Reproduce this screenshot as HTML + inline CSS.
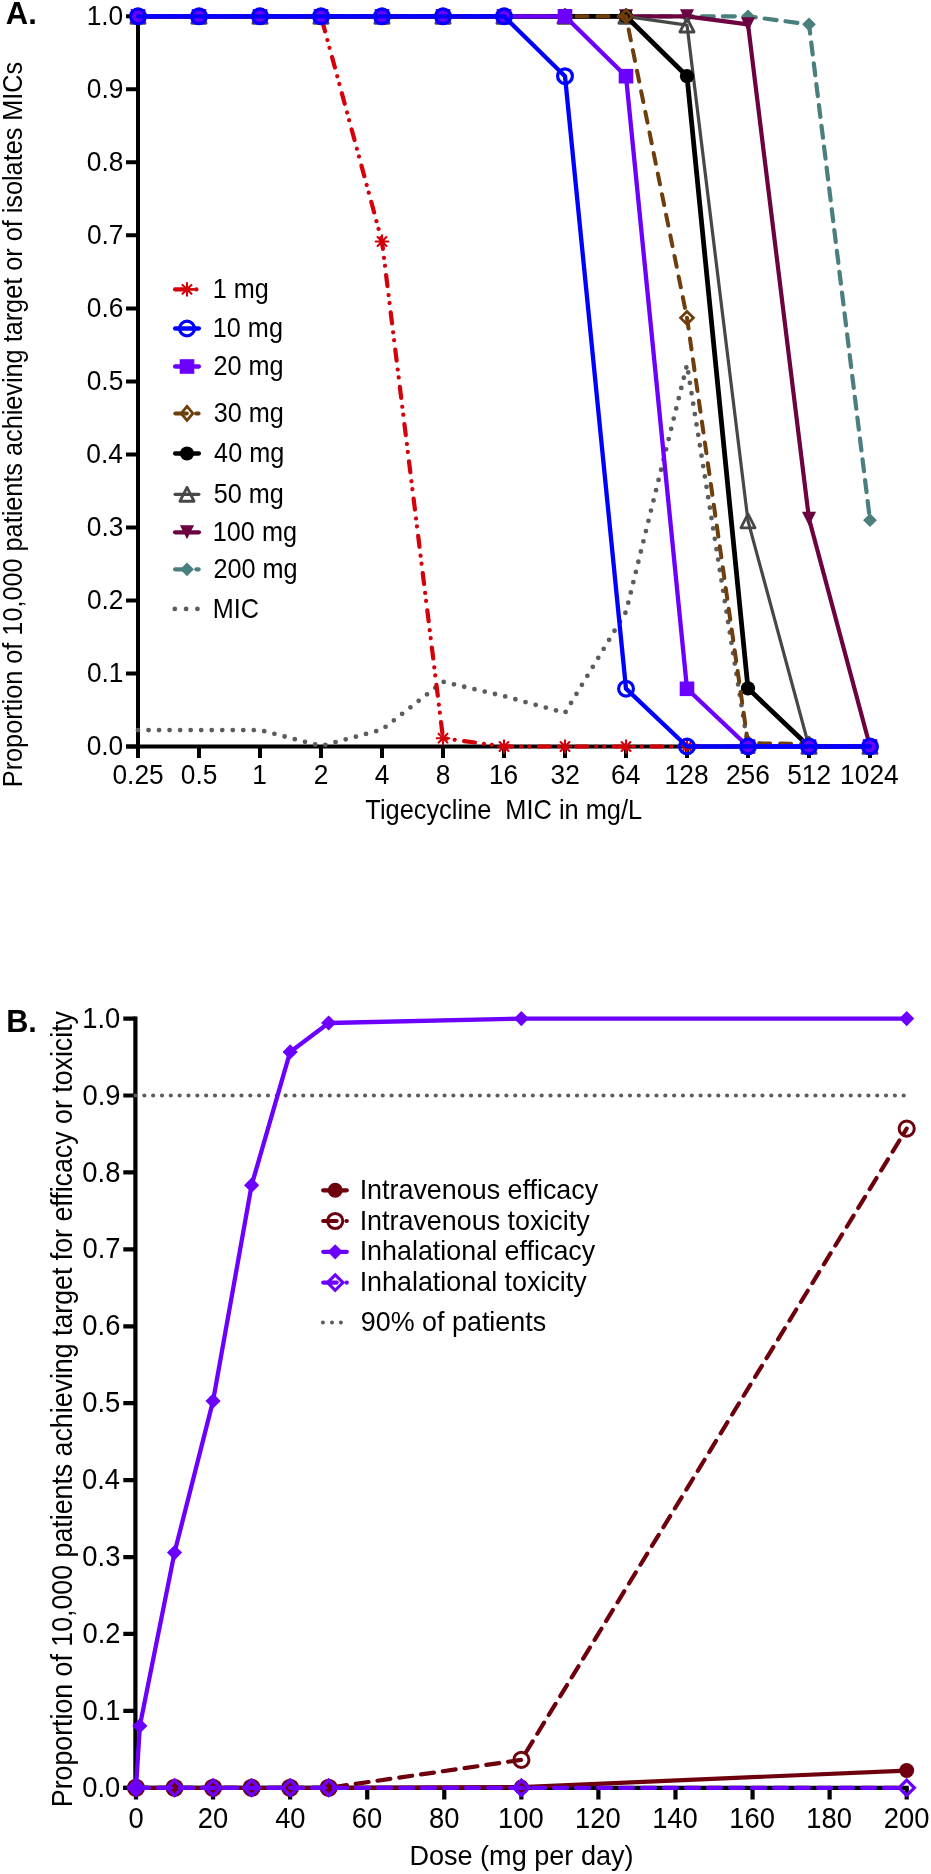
<!DOCTYPE html><html><head><meta charset="utf-8"><style>html,body{margin:0;padding:0;background:#fff;overflow:hidden}svg{display:block;will-change:transform}text{font-family:"Liberation Sans",sans-serif}</style></head><body>
<svg width="931" height="1874" viewBox="0 0 931 1874">
<rect width="931" height="1874" fill="#fff"/>
<text transform="translate(5.82,23.60) scale(1.0000,1)" font-size="31.0" font-weight="bold" fill="#000">A.</text>
<path d="M138,14.40V748.50M126,746.50H872.00" stroke="#000" stroke-width="4" fill="none"/>
<path d="M126,746.50H138M126,673.48H138M126,600.46H138M126,527.44H138M126,454.42H138M126,381.40H138M126,308.38H138M126,235.36H138M126,162.34H138M126,89.32H138M126,16.30H138M138,746.50V758M199,746.50V758M260,746.50V758M321,746.50V758M382,746.50V758M443,746.50V758M504,746.50V758M565,746.50V758M626,746.50V758M687,746.50V758M748,746.50V758M809,746.50V758M870,746.50V758" stroke="#000" stroke-width="4" fill="none"/>
<text transform="translate(86.63,755.30) scale(0.9750,1)" font-size="27" font-weight="normal" fill="#000">0.0</text>
<text transform="translate(86.90,682.28) scale(0.9750,1)" font-size="27" font-weight="normal" fill="#000">0.1</text>
<text transform="translate(86.92,609.26) scale(0.9750,1)" font-size="27" font-weight="normal" fill="#000">0.2</text>
<text transform="translate(86.77,536.24) scale(0.9750,1)" font-size="27" font-weight="normal" fill="#000">0.3</text>
<text transform="translate(86.37,463.22) scale(0.9750,1)" font-size="27" font-weight="normal" fill="#000">0.4</text>
<text transform="translate(86.71,390.20) scale(0.9750,1)" font-size="27" font-weight="normal" fill="#000">0.5</text>
<text transform="translate(86.77,317.18) scale(0.9750,1)" font-size="27" font-weight="normal" fill="#000">0.6</text>
<text transform="translate(86.92,244.16) scale(0.9750,1)" font-size="27" font-weight="normal" fill="#000">0.7</text>
<text transform="translate(86.74,171.14) scale(0.9750,1)" font-size="27" font-weight="normal" fill="#000">0.8</text>
<text transform="translate(86.85,98.12) scale(0.9750,1)" font-size="27" font-weight="normal" fill="#000">0.9</text>
<text transform="translate(86.63,25.10) scale(0.9750,1)" font-size="27" font-weight="normal" fill="#000">1.0</text>
<text transform="translate(112.43,784.00) scale(0.9750,1)" font-size="27" font-weight="normal" fill="#000">0.25</text>
<text transform="translate(180.74,784.00) scale(0.9750,1)" font-size="27" font-weight="normal" fill="#000">0.5</text>
<text transform="translate(252.33,784.00) scale(0.9750,1)" font-size="27" font-weight="normal" fill="#000">1</text>
<text transform="translate(313.68,784.00) scale(0.9750,1)" font-size="27" font-weight="normal" fill="#000">2</text>
<text transform="translate(374.76,784.00) scale(0.9750,1)" font-size="27" font-weight="normal" fill="#000">4</text>
<text transform="translate(435.68,784.00) scale(0.9750,1)" font-size="27" font-weight="normal" fill="#000">8</text>
<text transform="translate(488.94,784.00) scale(0.9750,1)" font-size="27" font-weight="normal" fill="#000">16</text>
<text transform="translate(550.52,784.00) scale(0.9750,1)" font-size="27" font-weight="normal" fill="#000">32</text>
<text transform="translate(611.07,784.00) scale(0.9750,1)" font-size="27" font-weight="normal" fill="#000">64</text>
<text transform="translate(664.61,784.00) scale(0.9750,1)" font-size="27" font-weight="normal" fill="#000">128</text>
<text transform="translate(725.97,784.00) scale(0.9750,1)" font-size="27" font-weight="normal" fill="#000">256</text>
<text transform="translate(787.18,784.00) scale(0.9750,1)" font-size="27" font-weight="normal" fill="#000">512</text>
<text transform="translate(840.11,784.00) scale(0.9750,1)" font-size="27" font-weight="normal" fill="#000">1024</text>
<text transform="translate(365.34,818.80) scale(0.9399,1)" font-size="27" font-weight="normal" fill="#000" style="white-space:pre">Tigecycline  MIC in mg/L</text>
<text transform="translate(22.00,787.17) rotate(-90) scale(0.9355,1)" font-size="27" font-weight="normal" fill="#000">Proportion of 10,000 patients achieving target or of isolates MICs</text>
<polyline points="138.00,730.10 199.00,730.10 260.00,730.10 321.00,746.00 382.00,729.60 443.00,681.80 504.00,696.10 565.00,712.90 626.00,611.80 687.00,364.80 748.00,746.30 809.00,746.30 870.00,746.30" fill="none" stroke="#5c5c5c" stroke-width="4.8" stroke-linecap="round" stroke-linejoin="round" stroke-dasharray="0 10.53"/>
<polyline points="138.00,16.30 199.00,16.30 260.00,16.30 321.00,16.30 382.00,16.30 443.00,16.30 504.00,16.30 565.00,16.30 626.00,16.30 687.00,16.30 748.00,16.30 809.00,24.33 870.00,520.14" fill="none" stroke="#4a7f7e" stroke-width="4.2" stroke-linecap="round" stroke-linejoin="round" stroke-dasharray="12 9" stroke-dashoffset="3.2"/>
<polygon points="138.00,9.40 144.90,16.30 138.00,23.20 131.10,16.30" fill="#4a7f7e"/>
<polygon points="199.00,9.40 205.90,16.30 199.00,23.20 192.10,16.30" fill="#4a7f7e"/>
<polygon points="260.00,9.40 266.90,16.30 260.00,23.20 253.10,16.30" fill="#4a7f7e"/>
<polygon points="321.00,9.40 327.90,16.30 321.00,23.20 314.10,16.30" fill="#4a7f7e"/>
<polygon points="382.00,9.40 388.90,16.30 382.00,23.20 375.10,16.30" fill="#4a7f7e"/>
<polygon points="443.00,9.40 449.90,16.30 443.00,23.20 436.10,16.30" fill="#4a7f7e"/>
<polygon points="504.00,9.40 510.90,16.30 504.00,23.20 497.10,16.30" fill="#4a7f7e"/>
<polygon points="565.00,9.40 571.90,16.30 565.00,23.20 558.10,16.30" fill="#4a7f7e"/>
<polygon points="626.00,9.40 632.90,16.30 626.00,23.20 619.10,16.30" fill="#4a7f7e"/>
<polygon points="687.00,9.40 693.90,16.30 687.00,23.20 680.10,16.30" fill="#4a7f7e"/>
<polygon points="748.00,9.40 754.90,16.30 748.00,23.20 741.10,16.30" fill="#4a7f7e"/>
<polygon points="809.00,17.43 815.90,24.33 809.00,31.23 802.10,24.33" fill="#4a7f7e"/>
<polygon points="870.00,513.24 876.90,520.14 870.00,527.04 863.10,520.14" fill="#4a7f7e"/>
<polyline points="138.00,16.30 199.00,16.30 260.00,16.30 321.00,16.30 382.00,16.30 443.00,16.30 504.00,16.30 565.00,16.30 626.00,16.30 687.00,16.30 748.00,24.33 809.00,518.68 870.00,746.50" fill="none" stroke="#6c0240" stroke-width="4.2" stroke-linecap="round" stroke-linejoin="round"/>
<polygon points="138.00,23.35 145.05,9.25 130.95,9.25" fill="#6c0240"/>
<polygon points="199.00,23.35 206.05,9.25 191.95,9.25" fill="#6c0240"/>
<polygon points="260.00,23.35 267.05,9.25 252.95,9.25" fill="#6c0240"/>
<polygon points="321.00,23.35 328.05,9.25 313.95,9.25" fill="#6c0240"/>
<polygon points="382.00,23.35 389.05,9.25 374.95,9.25" fill="#6c0240"/>
<polygon points="443.00,23.35 450.05,9.25 435.95,9.25" fill="#6c0240"/>
<polygon points="504.00,23.35 511.05,9.25 496.95,9.25" fill="#6c0240"/>
<polygon points="565.00,23.35 572.05,9.25 557.95,9.25" fill="#6c0240"/>
<polygon points="626.00,23.35 633.05,9.25 618.95,9.25" fill="#6c0240"/>
<polygon points="687.00,23.35 694.05,9.25 679.95,9.25" fill="#6c0240"/>
<polygon points="748.00,31.38 755.05,17.28 740.95,17.28" fill="#6c0240"/>
<polygon points="809.00,525.73 816.05,511.63 801.95,511.63" fill="#6c0240"/>
<polygon points="870.00,753.55 877.05,739.45 862.95,739.45" fill="#6c0240"/>
<polyline points="138.00,16.30 199.00,16.30 260.00,16.30 321.00,16.30 382.00,16.30 443.00,16.30 504.00,16.30 565.00,16.30 626.00,16.30 687.00,25.06 748.00,520.87 809.00,746.50 870.00,746.50" fill="none" stroke="#474747" stroke-width="3.2" stroke-linecap="round" stroke-linejoin="round"/>
<polygon points="138.00,9.35 145.10,23.25 130.90,23.25" fill="none" stroke="#474747" stroke-width="2.8" stroke-linejoin="round"/>
<polygon points="199.00,9.35 206.10,23.25 191.90,23.25" fill="none" stroke="#474747" stroke-width="2.8" stroke-linejoin="round"/>
<polygon points="260.00,9.35 267.10,23.25 252.90,23.25" fill="none" stroke="#474747" stroke-width="2.8" stroke-linejoin="round"/>
<polygon points="321.00,9.35 328.10,23.25 313.90,23.25" fill="none" stroke="#474747" stroke-width="2.8" stroke-linejoin="round"/>
<polygon points="382.00,9.35 389.10,23.25 374.90,23.25" fill="none" stroke="#474747" stroke-width="2.8" stroke-linejoin="round"/>
<polygon points="443.00,9.35 450.10,23.25 435.90,23.25" fill="none" stroke="#474747" stroke-width="2.8" stroke-linejoin="round"/>
<polygon points="504.00,9.35 511.10,23.25 496.90,23.25" fill="none" stroke="#474747" stroke-width="2.8" stroke-linejoin="round"/>
<polygon points="565.00,9.35 572.10,23.25 557.90,23.25" fill="none" stroke="#474747" stroke-width="2.8" stroke-linejoin="round"/>
<polygon points="626.00,9.35 633.10,23.25 618.90,23.25" fill="none" stroke="#474747" stroke-width="2.8" stroke-linejoin="round"/>
<polygon points="687.00,18.11 694.10,32.01 679.90,32.01" fill="none" stroke="#474747" stroke-width="2.8" stroke-linejoin="round"/>
<polygon points="748.00,513.92 755.10,527.82 740.90,527.82" fill="none" stroke="#474747" stroke-width="2.8" stroke-linejoin="round"/>
<polygon points="809.00,739.55 816.10,753.45 801.90,753.45" fill="none" stroke="#474747" stroke-width="2.8" stroke-linejoin="round"/>
<polygon points="870.00,739.55 877.10,753.45 862.90,753.45" fill="none" stroke="#474747" stroke-width="2.8" stroke-linejoin="round"/>
<polyline points="138.00,16.30 199.00,16.30 260.00,16.30 321.00,16.30 382.00,16.30 443.00,16.30 504.00,16.30 565.00,16.30 626.00,16.30 687.00,76.18 748.00,688.38 809.00,746.50 870.00,746.50" fill="none" stroke="#000000" stroke-width="4.8" stroke-linecap="round" stroke-linejoin="round"/>
<circle cx="138.00" cy="16.30" r="7.1" fill="#000000"/>
<circle cx="199.00" cy="16.30" r="7.1" fill="#000000"/>
<circle cx="260.00" cy="16.30" r="7.1" fill="#000000"/>
<circle cx="321.00" cy="16.30" r="7.1" fill="#000000"/>
<circle cx="382.00" cy="16.30" r="7.1" fill="#000000"/>
<circle cx="443.00" cy="16.30" r="7.1" fill="#000000"/>
<circle cx="504.00" cy="16.30" r="7.1" fill="#000000"/>
<circle cx="565.00" cy="16.30" r="7.1" fill="#000000"/>
<circle cx="626.00" cy="16.30" r="7.1" fill="#000000"/>
<circle cx="687.00" cy="76.18" r="7.1" fill="#000000"/>
<circle cx="748.00" cy="688.38" r="7.1" fill="#000000"/>
<circle cx="809.00" cy="746.50" r="7.1" fill="#000000"/>
<circle cx="870.00" cy="746.50" r="7.1" fill="#000000"/>
<polyline points="138.00,16.30 199.00,16.30 260.00,16.30 321.00,16.30 382.00,16.30 443.00,16.30 504.00,16.30 565.00,16.30 626.00,16.30 687.00,317.87 748.00,743.21 809.00,743.94" fill="none" stroke="#6e3e0c" stroke-width="4.0" stroke-linecap="round" stroke-linejoin="round" stroke-dasharray="11 10" stroke-dashoffset="2.5"/>
<polygon points="138.00,9.90 144.40,16.30 138.00,22.70 131.60,16.30" fill="none" stroke="#6e3e0c" stroke-width="2.8" stroke-linejoin="miter"/>
<polygon points="199.00,9.90 205.40,16.30 199.00,22.70 192.60,16.30" fill="none" stroke="#6e3e0c" stroke-width="2.8" stroke-linejoin="miter"/>
<polygon points="260.00,9.90 266.40,16.30 260.00,22.70 253.60,16.30" fill="none" stroke="#6e3e0c" stroke-width="2.8" stroke-linejoin="miter"/>
<polygon points="321.00,9.90 327.40,16.30 321.00,22.70 314.60,16.30" fill="none" stroke="#6e3e0c" stroke-width="2.8" stroke-linejoin="miter"/>
<polygon points="382.00,9.90 388.40,16.30 382.00,22.70 375.60,16.30" fill="none" stroke="#6e3e0c" stroke-width="2.8" stroke-linejoin="miter"/>
<polygon points="443.00,9.90 449.40,16.30 443.00,22.70 436.60,16.30" fill="none" stroke="#6e3e0c" stroke-width="2.8" stroke-linejoin="miter"/>
<polygon points="504.00,9.90 510.40,16.30 504.00,22.70 497.60,16.30" fill="none" stroke="#6e3e0c" stroke-width="2.8" stroke-linejoin="miter"/>
<polygon points="565.00,9.90 571.40,16.30 565.00,22.70 558.60,16.30" fill="none" stroke="#6e3e0c" stroke-width="2.8" stroke-linejoin="miter"/>
<polygon points="626.00,9.90 632.40,16.30 626.00,22.70 619.60,16.30" fill="none" stroke="#6e3e0c" stroke-width="2.8" stroke-linejoin="miter"/>
<polygon points="687.00,311.47 693.40,317.87 687.00,324.27 680.60,317.87" fill="none" stroke="#6e3e0c" stroke-width="2.8" stroke-linejoin="miter"/>
<polygon points="748.00,736.81 754.40,743.21 748.00,749.61 741.60,743.21" fill="none" stroke="#6e3e0c" stroke-width="2.8" stroke-linejoin="miter"/>
<polygon points="809.00,737.54 815.40,743.94 809.00,750.34 802.60,743.94" fill="none" stroke="#6e3e0c" stroke-width="2.8" stroke-linejoin="miter"/>
<polyline points="138.00,16.30 199.00,16.30 260.00,16.30 321.00,16.30 382.00,241.49 443.00,738.18 504.00,746.50 565.00,746.50 626.00,746.50 687.00,746.50 748.00,746.50 809.00,746.50 870.00,746.50" fill="none" stroke="#d4000a" stroke-width="4.2" stroke-linecap="round" stroke-linejoin="round" stroke-dasharray="11 9 0.01 8 0.01 9.5"/>
<path d="M131.70,16.30L144.30,16.30M133.55,11.85L142.45,20.75M138.00,10.00L138.00,22.60M142.45,11.85L133.55,20.75" stroke="#d4000a" stroke-width="2.1" fill="none" stroke-linecap="round"/>
<path d="M192.70,16.30L205.30,16.30M194.55,11.85L203.45,20.75M199.00,10.00L199.00,22.60M203.45,11.85L194.55,20.75" stroke="#d4000a" stroke-width="2.1" fill="none" stroke-linecap="round"/>
<path d="M253.70,16.30L266.30,16.30M255.55,11.85L264.45,20.75M260.00,10.00L260.00,22.60M264.45,11.85L255.55,20.75" stroke="#d4000a" stroke-width="2.1" fill="none" stroke-linecap="round"/>
<path d="M314.70,16.30L327.30,16.30M316.55,11.85L325.45,20.75M321.00,10.00L321.00,22.60M325.45,11.85L316.55,20.75" stroke="#d4000a" stroke-width="2.1" fill="none" stroke-linecap="round"/>
<path d="M375.70,241.49L388.30,241.49M377.55,237.04L386.45,245.95M382.00,235.19L382.00,247.79M386.45,237.04L377.55,245.95" stroke="#d4000a" stroke-width="2.1" fill="none" stroke-linecap="round"/>
<path d="M436.70,738.18L449.30,738.18M438.55,733.72L447.45,742.63M443.00,731.88L443.00,744.48M447.45,733.72L438.55,742.63" stroke="#d4000a" stroke-width="2.1" fill="none" stroke-linecap="round"/>
<path d="M497.70,746.50L510.30,746.50M499.55,742.05L508.45,750.95M504.00,740.20L504.00,752.80M508.45,742.05L499.55,750.95" stroke="#d4000a" stroke-width="2.1" fill="none" stroke-linecap="round"/>
<path d="M558.70,746.50L571.30,746.50M560.55,742.05L569.45,750.95M565.00,740.20L565.00,752.80M569.45,742.05L560.55,750.95" stroke="#d4000a" stroke-width="2.1" fill="none" stroke-linecap="round"/>
<path d="M619.70,746.50L632.30,746.50M621.55,742.05L630.45,750.95M626.00,740.20L626.00,752.80M630.45,742.05L621.55,750.95" stroke="#d4000a" stroke-width="2.1" fill="none" stroke-linecap="round"/>
<path d="M680.70,746.50L693.30,746.50M682.55,742.05L691.45,750.95M687.00,740.20L687.00,752.80M691.45,742.05L682.55,750.95" stroke="#d4000a" stroke-width="2.1" fill="none" stroke-linecap="round"/>
<path d="M741.70,746.50L754.30,746.50M743.55,742.05L752.45,750.95M748.00,740.20L748.00,752.80M752.45,742.05L743.55,750.95" stroke="#d4000a" stroke-width="2.1" fill="none" stroke-linecap="round"/>
<path d="M802.70,746.50L815.30,746.50M804.55,742.05L813.45,750.95M809.00,740.20L809.00,752.80M813.45,742.05L804.55,750.95" stroke="#d4000a" stroke-width="2.1" fill="none" stroke-linecap="round"/>
<path d="M863.70,746.50L876.30,746.50M865.55,742.05L874.45,750.95M870.00,740.20L870.00,752.80M874.45,742.05L865.55,750.95" stroke="#d4000a" stroke-width="2.1" fill="none" stroke-linecap="round"/>
<polyline points="138.00,16.30 199.00,16.30 260.00,16.30 321.00,16.30 382.00,16.30 443.00,16.30 504.00,16.30 565.00,16.30 626.00,76.18 687.00,688.81 748.00,746.50 809.00,746.50 870.00,746.50" fill="none" stroke="#6b00fe" stroke-width="4.3" stroke-linecap="round" stroke-linejoin="round"/>
<rect x="130.70" y="9.00" width="14.6" height="14.6" fill="#6b00fe"/>
<rect x="191.70" y="9.00" width="14.6" height="14.6" fill="#6b00fe"/>
<rect x="252.70" y="9.00" width="14.6" height="14.6" fill="#6b00fe"/>
<rect x="313.70" y="9.00" width="14.6" height="14.6" fill="#6b00fe"/>
<rect x="374.70" y="9.00" width="14.6" height="14.6" fill="#6b00fe"/>
<rect x="435.70" y="9.00" width="14.6" height="14.6" fill="#6b00fe"/>
<rect x="496.70" y="9.00" width="14.6" height="14.6" fill="#6b00fe"/>
<rect x="557.70" y="9.00" width="14.6" height="14.6" fill="#6b00fe"/>
<rect x="618.70" y="68.88" width="14.6" height="14.6" fill="#6b00fe"/>
<rect x="679.70" y="681.51" width="14.6" height="14.6" fill="#6b00fe"/>
<rect x="740.70" y="739.20" width="14.6" height="14.6" fill="#6b00fe"/>
<rect x="801.70" y="739.20" width="14.6" height="14.6" fill="#6b00fe"/>
<rect x="862.70" y="739.20" width="14.6" height="14.6" fill="#6b00fe"/>
<polyline points="138.00,16.30 199.00,16.30 260.00,16.30 321.00,16.30 382.00,16.30 443.00,16.30 504.00,16.30 565.00,76.18 626.00,688.67 687.00,746.50 748.00,746.50 809.00,746.50 870.00,746.50" fill="none" stroke="#0000ff" stroke-width="4.3" stroke-linecap="round" stroke-linejoin="round"/>
<circle cx="138.00" cy="16.30" r="7.4" fill="none" stroke="#0000ff" stroke-width="3.2"/>
<circle cx="199.00" cy="16.30" r="7.4" fill="none" stroke="#0000ff" stroke-width="3.2"/>
<circle cx="260.00" cy="16.30" r="7.4" fill="none" stroke="#0000ff" stroke-width="3.2"/>
<circle cx="321.00" cy="16.30" r="7.4" fill="none" stroke="#0000ff" stroke-width="3.2"/>
<circle cx="382.00" cy="16.30" r="7.4" fill="none" stroke="#0000ff" stroke-width="3.2"/>
<circle cx="443.00" cy="16.30" r="7.4" fill="none" stroke="#0000ff" stroke-width="3.2"/>
<circle cx="504.00" cy="16.30" r="7.4" fill="none" stroke="#0000ff" stroke-width="3.2"/>
<circle cx="565.00" cy="76.18" r="7.4" fill="none" stroke="#0000ff" stroke-width="3.2"/>
<circle cx="626.00" cy="688.67" r="7.4" fill="none" stroke="#0000ff" stroke-width="3.2"/>
<circle cx="687.00" cy="746.50" r="7.4" fill="none" stroke="#0000ff" stroke-width="3.2"/>
<circle cx="748.00" cy="746.50" r="7.4" fill="none" stroke="#0000ff" stroke-width="3.2"/>
<circle cx="809.00" cy="746.50" r="7.4" fill="none" stroke="#0000ff" stroke-width="3.2"/>
<circle cx="870.00" cy="746.50" r="7.4" fill="none" stroke="#0000ff" stroke-width="3.2"/>
<polyline points="175.10,289.40 183.00,289.40" fill="none" stroke="#d4000a" stroke-width="4.3" stroke-linecap="round" stroke-linejoin="round"/>
<polyline points="190.00,289.40 196.40,289.40" fill="none" stroke="#d4000a" stroke-width="2.2" stroke-linecap="round" stroke-linejoin="round"/>
<circle cx="196.40" cy="289.40" r="2.15" fill="#d4000a"/>
<path d="M180.70,289.40L193.30,289.40M182.55,284.95L191.45,293.85M187.00,283.10L187.00,295.70M191.45,284.95L182.55,293.85" stroke="#d4000a" stroke-width="2.1" fill="none" stroke-linecap="round"/>
<text transform="translate(212.78,298.00) scale(0.9350,1)" font-size="27" font-weight="normal" fill="#000">1 mg</text>
<polyline points="175.10,328.50 198.90,328.50" fill="none" stroke="#0000ff" stroke-width="4.3" stroke-linecap="round" stroke-linejoin="round"/>
<circle cx="187.00" cy="328.50" r="7.4" fill="none" stroke="#0000ff" stroke-width="3.2"/>
<text transform="translate(212.78,337.10) scale(0.9350,1)" font-size="27" font-weight="normal" fill="#000">10 mg</text>
<polyline points="175.10,366.50 198.90,366.50" fill="none" stroke="#6b00fe" stroke-width="4.3" stroke-linecap="round" stroke-linejoin="round"/>
<rect x="179.70" y="359.20" width="14.6" height="14.6" fill="#6b00fe"/>
<text transform="translate(213.44,375.10) scale(0.9350,1)" font-size="27" font-weight="normal" fill="#000">20 mg</text>
<polyline points="175.30,413.40 186.80,413.40" fill="none" stroke="#6e3e0c" stroke-width="4.0" stroke-linecap="round" stroke-linejoin="round"/>
<polyline points="196.10,413.40 198.60,413.40" fill="none" stroke="#6e3e0c" stroke-width="4.0" stroke-linecap="round" stroke-linejoin="round"/>
<polygon points="187.00,406.40 192.90,413.40 187.00,420.40 181.10,413.40" fill="none" stroke="#6e3e0c" stroke-width="2.8" stroke-linejoin="miter"/>
<text transform="translate(213.74,422.00) scale(0.9350,1)" font-size="27" font-weight="normal" fill="#000">30 mg</text>
<polyline points="175.10,453.50 198.90,453.50" fill="none" stroke="#000000" stroke-width="4.3" stroke-linecap="round" stroke-linejoin="round"/>
<circle cx="187.00" cy="453.50" r="7.1" fill="#000000"/>
<text transform="translate(214.12,462.10) scale(0.9350,1)" font-size="27" font-weight="normal" fill="#000">40 mg</text>
<polyline points="175.10,494.30 198.90,494.30" fill="none" stroke="#474747" stroke-width="3.2" stroke-linecap="round" stroke-linejoin="round"/>
<polygon points="187.00,487.35 194.10,501.25 179.90,501.25" fill="none" stroke="#474747" stroke-width="2.8" stroke-linejoin="round"/>
<text transform="translate(213.69,502.90) scale(0.9350,1)" font-size="27" font-weight="normal" fill="#000">50 mg</text>
<polyline points="175.10,532.30 198.90,532.30" fill="none" stroke="#6c0240" stroke-width="4.3" stroke-linecap="round" stroke-linejoin="round"/>
<polygon points="187.00,539.35 194.05,525.25 179.95,525.25" fill="#6c0240"/>
<text transform="translate(212.78,540.90) scale(0.9350,1)" font-size="27" font-weight="normal" fill="#000">100 mg</text>
<polyline points="175.10,569.30 183.00,569.30" fill="none" stroke="#4a7f7e" stroke-width="4.2" stroke-linecap="round" stroke-linejoin="round"/>
<polyline points="196.40,569.30 198.60,569.30" fill="none" stroke="#4a7f7e" stroke-width="4.2" stroke-linecap="round" stroke-linejoin="round"/>
<polygon points="187.00,562.40 193.90,569.30 187.00,576.20 180.10,569.30" fill="#4a7f7e"/>
<text transform="translate(213.44,577.90) scale(0.9350,1)" font-size="27" font-weight="normal" fill="#000">200 mg</text>
<circle cx="174.8" cy="608.9" r="2.4" fill="#5c5c5c"/>
<circle cx="186.1" cy="608.9" r="2.4" fill="#5c5c5c"/>
<circle cx="197.4" cy="608.9" r="2.4" fill="#5c5c5c"/>
<text transform="translate(212.63,617.50) scale(0.9350,1)" font-size="27" font-weight="normal" fill="#000">MIC</text>
<text transform="translate(6.14,1032.30) scale(1.0000,1)" font-size="30.7" font-weight="bold" fill="#000">B.</text>
<path d="M135.4,1016.60V1789.80M123.3,1787.80H908.70" stroke="#000" stroke-width="4.2" fill="none"/>
<path d="M123.3,1787.80H135.4M123.3,1710.88H135.4M123.3,1633.96H135.4M123.3,1557.04H135.4M123.3,1480.12H135.4M123.3,1403.20H135.4M123.3,1326.28H135.4M123.3,1249.36H135.4M123.3,1172.44H135.4M123.3,1095.52H135.4M123.3,1018.60H135.4M136.00,1787.80V1799.6M213.07,1787.80V1799.6M290.14,1787.80V1799.6M367.21,1787.80V1799.6M444.28,1787.80V1799.6M521.35,1787.80V1799.6M598.42,1787.80V1799.6M675.49,1787.80V1799.6M752.56,1787.80V1799.6M829.63,1787.80V1799.6M906.70,1787.80V1799.6" stroke="#000" stroke-width="4.2" fill="none"/>
<text transform="translate(82.24,1796.90) scale(0.9060,1)" font-size="30.2" font-weight="normal" fill="#000">0.0</text>
<text transform="translate(82.51,1719.98) scale(0.9060,1)" font-size="30.2" font-weight="normal" fill="#000">0.1</text>
<text transform="translate(82.54,1643.06) scale(0.9060,1)" font-size="30.2" font-weight="normal" fill="#000">0.2</text>
<text transform="translate(82.37,1566.14) scale(0.9060,1)" font-size="30.2" font-weight="normal" fill="#000">0.3</text>
<text transform="translate(81.96,1489.22) scale(0.9060,1)" font-size="30.2" font-weight="normal" fill="#000">0.4</text>
<text transform="translate(82.32,1412.30) scale(0.9060,1)" font-size="30.2" font-weight="normal" fill="#000">0.5</text>
<text transform="translate(82.37,1335.38) scale(0.9060,1)" font-size="30.2" font-weight="normal" fill="#000">0.6</text>
<text transform="translate(82.54,1258.46) scale(0.9060,1)" font-size="30.2" font-weight="normal" fill="#000">0.7</text>
<text transform="translate(82.34,1181.54) scale(0.9060,1)" font-size="30.2" font-weight="normal" fill="#000">0.8</text>
<text transform="translate(82.45,1104.62) scale(0.9060,1)" font-size="30.2" font-weight="normal" fill="#000">0.9</text>
<text transform="translate(82.24,1027.70) scale(0.9060,1)" font-size="30.2" font-weight="normal" fill="#000">1.0</text>
<text transform="translate(128.39,1828.00) scale(0.9060,1)" font-size="30.2" font-weight="normal" fill="#000">0</text>
<text transform="translate(197.71,1828.00) scale(0.9060,1)" font-size="30.2" font-weight="normal" fill="#000">20</text>
<text transform="translate(275.15,1828.00) scale(0.9060,1)" font-size="30.2" font-weight="normal" fill="#000">40</text>
<text transform="translate(351.83,1828.00) scale(0.9060,1)" font-size="30.2" font-weight="normal" fill="#000">60</text>
<text transform="translate(429.01,1828.00) scale(0.9060,1)" font-size="30.2" font-weight="normal" fill="#000">80</text>
<text transform="translate(498.02,1828.00) scale(0.9060,1)" font-size="30.2" font-weight="normal" fill="#000">100</text>
<text transform="translate(575.09,1828.00) scale(0.9060,1)" font-size="30.2" font-weight="normal" fill="#000">120</text>
<text transform="translate(652.16,1828.00) scale(0.9060,1)" font-size="30.2" font-weight="normal" fill="#000">140</text>
<text transform="translate(729.23,1828.00) scale(0.9060,1)" font-size="30.2" font-weight="normal" fill="#000">160</text>
<text transform="translate(806.30,1828.00) scale(0.9060,1)" font-size="30.2" font-weight="normal" fill="#000">180</text>
<text transform="translate(883.73,1828.00) scale(0.9060,1)" font-size="30.2" font-weight="normal" fill="#000">200</text>
<text transform="translate(409.38,1864.80) scale(0.9571,1)" font-size="28.3" font-weight="normal" fill="#000">Dose (mg per day)</text>
<text transform="translate(71.60,1807.19) rotate(-90) scale(0.9192,1)" font-size="29.1" font-weight="normal" fill="#000">Proportion of 10,000 patients achieving target for efficacy or toxicity</text>
<polyline points="135.50,1095.52 906.70,1095.52" fill="none" stroke="#5c5c5c" stroke-width="4.2" stroke-linecap="round" stroke-linejoin="round" stroke-dasharray="0 8.83"/>
<polyline points="136.00,1787.80 174.53,1787.80 213.07,1787.80 251.61,1787.80 290.14,1787.80 328.67,1787.80 521.35,1787.03 906.70,1770.57" fill="none" stroke="#6d000c" stroke-width="4.2" stroke-linecap="round" stroke-linejoin="round"/>
<circle cx="136.00" cy="1787.80" r="7.5" fill="#6d000c"/>
<circle cx="174.53" cy="1787.80" r="7.5" fill="#6d000c"/>
<circle cx="213.07" cy="1787.80" r="7.5" fill="#6d000c"/>
<circle cx="251.61" cy="1787.80" r="7.5" fill="#6d000c"/>
<circle cx="290.14" cy="1787.80" r="7.5" fill="#6d000c"/>
<circle cx="328.67" cy="1787.80" r="7.5" fill="#6d000c"/>
<circle cx="521.35" cy="1787.03" r="7.5" fill="#6d000c"/>
<circle cx="906.70" cy="1770.57" r="7.5" fill="#6d000c"/>
<polyline points="136.00,1787.80 174.53,1787.80 213.07,1787.80 251.61,1787.80 290.14,1787.80 328.67,1787.80 521.35,1759.88 906.70,1128.60" fill="none" stroke="#6d000c" stroke-width="4.2" stroke-linecap="round" stroke-linejoin="round" stroke-dasharray="13 9"/>
<circle cx="136.00" cy="1787.80" r="7.6" fill="none" stroke="#6d000c" stroke-width="3.0"/>
<circle cx="174.53" cy="1787.80" r="7.6" fill="none" stroke="#6d000c" stroke-width="3.0"/>
<circle cx="213.07" cy="1787.80" r="7.6" fill="none" stroke="#6d000c" stroke-width="3.0"/>
<circle cx="251.61" cy="1787.80" r="7.6" fill="none" stroke="#6d000c" stroke-width="3.0"/>
<circle cx="290.14" cy="1787.80" r="7.6" fill="none" stroke="#6d000c" stroke-width="3.0"/>
<circle cx="328.67" cy="1787.80" r="7.6" fill="none" stroke="#6d000c" stroke-width="3.0"/>
<circle cx="521.35" cy="1759.88" r="7.6" fill="none" stroke="#6d000c" stroke-width="3.0"/>
<circle cx="906.70" cy="1128.60" r="7.6" fill="none" stroke="#6d000c" stroke-width="3.0"/>
<polyline points="136.00,1787.80 139.85,1725.88 174.53,1552.58 213.07,1400.89 251.61,1185.21 290.14,1051.91 328.67,1022.98 521.35,1018.60 906.70,1018.60" fill="none" stroke="#6b00fe" stroke-width="4.3" stroke-linecap="round" stroke-linejoin="round"/>
<polygon points="136.00,1780.20 143.60,1787.80 136.00,1795.40 128.40,1787.80" fill="#6b00fe"/>
<polygon points="139.85,1718.28 147.45,1725.88 139.85,1733.48 132.25,1725.88" fill="#6b00fe"/>
<polygon points="174.53,1544.98 182.13,1552.58 174.53,1560.18 166.94,1552.58" fill="#6b00fe"/>
<polygon points="213.07,1393.29 220.67,1400.89 213.07,1408.49 205.47,1400.89" fill="#6b00fe"/>
<polygon points="251.61,1177.61 259.21,1185.21 251.61,1192.81 244.01,1185.21" fill="#6b00fe"/>
<polygon points="290.14,1044.31 297.74,1051.91 290.14,1059.51 282.54,1051.91" fill="#6b00fe"/>
<polygon points="328.67,1015.38 336.27,1022.98 328.67,1030.58 321.07,1022.98" fill="#6b00fe"/>
<polygon points="521.35,1011.00 528.95,1018.60 521.35,1026.20 513.75,1018.60" fill="#6b00fe"/>
<polygon points="906.70,1011.00 914.30,1018.60 906.70,1026.20 899.10,1018.60" fill="#6b00fe"/>
<polyline points="136.00,1787.80 174.53,1787.80 213.07,1787.80 251.61,1787.80 290.14,1787.80 328.67,1787.80 521.35,1787.80 900.20,1787.80" fill="none" stroke="#6b00fe" stroke-width="4.2" stroke-linecap="round" stroke-linejoin="round" stroke-dasharray="13 9"/>
<polygon points="136.00,1780.10 143.70,1787.80 136.00,1795.50 128.30,1787.80" fill="none" stroke="#6b00fe" stroke-width="3.2" stroke-linejoin="miter"/>
<polygon points="174.53,1780.10 182.23,1787.80 174.53,1795.50 166.84,1787.80" fill="none" stroke="#6b00fe" stroke-width="3.2" stroke-linejoin="miter"/>
<polygon points="213.07,1780.10 220.77,1787.80 213.07,1795.50 205.37,1787.80" fill="none" stroke="#6b00fe" stroke-width="3.2" stroke-linejoin="miter"/>
<polygon points="251.61,1780.10 259.31,1787.80 251.61,1795.50 243.91,1787.80" fill="none" stroke="#6b00fe" stroke-width="3.2" stroke-linejoin="miter"/>
<polygon points="290.14,1780.10 297.84,1787.80 290.14,1795.50 282.44,1787.80" fill="none" stroke="#6b00fe" stroke-width="3.2" stroke-linejoin="miter"/>
<polygon points="328.67,1780.10 336.37,1787.80 328.67,1795.50 320.97,1787.80" fill="none" stroke="#6b00fe" stroke-width="3.2" stroke-linejoin="miter"/>
<polygon points="521.35,1780.10 529.05,1787.80 521.35,1795.50 513.65,1787.80" fill="none" stroke="#6b00fe" stroke-width="3.2" stroke-linejoin="miter"/>
<polygon points="906.70,1780.10 914.40,1787.80 906.70,1795.50 899.00,1787.80" fill="none" stroke="#6b00fe" stroke-width="3.2" stroke-linejoin="miter"/>
<polyline points="323.20,1190.30 346.80,1190.30" fill="none" stroke="#6d000c" stroke-width="4.2" stroke-linecap="round" stroke-linejoin="round"/>
<circle cx="335.20" cy="1190.30" r="7.5" fill="#6d000c"/>
<text transform="translate(359.63,1198.80) scale(0.9500,1)" font-size="28.3" font-weight="normal" fill="#000">Intravenous efficacy</text>
<polyline points="323.20,1221.00 336.60,1221.00" fill="none" stroke="#6d000c" stroke-width="4.2" stroke-linecap="round" stroke-linejoin="round"/>
<polyline points="346.50,1221.00 346.80,1221.00" fill="none" stroke="#6d000c" stroke-width="4.2" stroke-linecap="round" stroke-linejoin="round"/>
<circle cx="335.20" cy="1221.00" r="7.6" fill="none" stroke="#6d000c" stroke-width="3.0"/>
<text transform="translate(359.63,1229.50) scale(0.9500,1)" font-size="28.3" font-weight="normal" fill="#000">Intravenous toxicity</text>
<polyline points="323.20,1251.80 346.80,1251.80" fill="none" stroke="#6b00fe" stroke-width="4.2" stroke-linecap="round" stroke-linejoin="round"/>
<polygon points="335.20,1244.20 342.80,1251.80 335.20,1259.40 327.60,1251.80" fill="#6b00fe"/>
<text transform="translate(359.63,1260.30) scale(0.9500,1)" font-size="28.3" font-weight="normal" fill="#000">Inhalational efficacy</text>
<polyline points="323.20,1282.60 336.60,1282.60" fill="none" stroke="#6b00fe" stroke-width="4.2" stroke-linecap="round" stroke-linejoin="round"/>
<polyline points="346.50,1282.60 346.80,1282.60" fill="none" stroke="#6b00fe" stroke-width="4.2" stroke-linecap="round" stroke-linejoin="round"/>
<polygon points="335.20,1274.90 342.90,1282.60 335.20,1290.30 327.50,1282.60" fill="none" stroke="#6b00fe" stroke-width="3.2" stroke-linejoin="miter"/>
<text transform="translate(359.63,1291.10) scale(0.9500,1)" font-size="28.3" font-weight="normal" fill="#000">Inhalational toxicity</text>
<circle cx="322.9" cy="1322.6" r="2.0" fill="#5c5c5c"/>
<circle cx="332.0" cy="1322.6" r="2.0" fill="#5c5c5c"/>
<circle cx="340.9" cy="1322.6" r="2.0" fill="#5c5c5c"/>
<text transform="translate(360.84,1330.70) scale(0.9500,1)" font-size="28.3" font-weight="normal" fill="#000">90% of patients</text>
</svg></body></html>
